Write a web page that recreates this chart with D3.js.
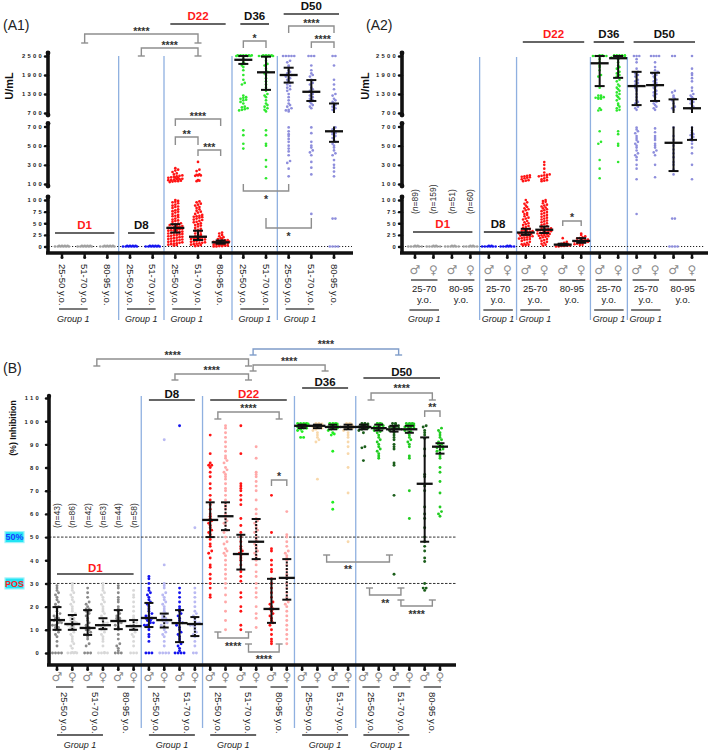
<!DOCTYPE html>
<html><head><meta charset="utf-8">
<script src="https://cdn.jsdelivr.net/npm/d3@7/dist/d3.min.js"></script>
<style>
html,body{margin:0;padding:0;background:#fff;}
svg{display:block;}
text{font-family:"Liberation Sans",Arial,Helvetica,sans-serif;}
text.sym{font-family:"DejaVu Sans","Noto Sans",sans-serif;}
</style></head><body>
<svg id="chart" width="709" height="750"></svg>
<script>
// ======================= DATA =======================
// ---- Panel A1 (U/mL by day and age) ----
const a1Days = ["D1","D1","D1","D8","D8","D22","D22","D22","D36","D36","D50","D50","D50"];
const a1Ages = ["25-50 y.o.","51-70 y.o.","80-95 y.o.","25-50 y.o.","51-70 y.o.","25-50 y.o.","51-70 y.o.","80-95 y.o.","25-50 y.o.","51-70 y.o.","25-50 y.o.","51-70 y.o.","80-95 y.o."];
const a1Values = [
 [0,0,0,0,0,0,0,0,0,0],
 [0,0,0,0,0,0,0,0,0,0],
 [0,0,0,0,0,0,0,0,0,0],
 [0,0,0,0,0,0,0,0,0,0],
 [0,0,0,0,0,0,0,0,0,0],
 [265,250,240,225,210,200,190,185,180,175,170,165,160,160,155,150,150,145,140,140,135,130,130,125,120,
  100,98,96,95,93,90,88,86,85,83,80,78,76,75,73,70,68,66,65,63,60,58,56,55,53,50,49,48,47,46,45,44,43,42,41,40,40,39,38,38,37,36,35,35,34,33,32,31,30,30,29,28,27,26,25,24,23,22,21,20,19,18,17,16,15,14,13,12,11,10,9,8,7,6,5,4,3,2],
 [330,250,235,200,195,190,190,185,140,135,130,
  97,95,92,90,88,85,83,80,77,75,73,70,68,66,65,64,63,62,60,58,57,55,53,52,50,48,46,45,43,40,38,36,34,32,30,28,26,24,22,21,20,20,19,18,18,17,16,15,15,14,13,12,11,10,9,8,7,6,5,4,3,2,1],
 [30,28,25,22,20,18,16,15,14,13,12,11,10,10,9,9,8,8,7,7,6,6,5,5,4,4,3,3,2,2,1,1,0,0],
 [2500,2500,2500,2500,2500,2500,2500,2500,2500,2500,2500,2500,2400,2300,2250,2200,2150,2050,1900,1750,1650,1600,1250,1200,1180,1150,1120,1100,1050,1000,900,880,850,820,800,780,660,610,520,470],
 [2500,2500,2500,2500,2500,2500,2500,2500,2500,2500,2450,2350,2250,2200,2100,2000,1950,1900,1800,1700,1600,1500,1400,1300,1250,1200,1100,1000,950,900,850,800,750,660,610,520,500,350,280,160],
 [2500,2500,2500,2500,2500,2350,2300,2200,2150,2050,2000,1950,1900,1900,1850,1800,1750,1700,1650,1600,1550,1500,1450,1400,1300,1200,1100,1000,950,900,850,800,780,750,690,650,620,600,570,540,500,470,440,400,340,320,260,180],
 [2500,2500,2500,2200,2050,1950,1900,1850,1750,1650,1600,1500,1450,1400,1350,1300,1250,1200,1150,1100,1050,1000,950,900,850,690,630,540,500,480,450,430,400,330,270,200,70],
 [2500,2500,2200,1750,1600,1450,1300,1250,1150,1100,1050,1000,950,900,850,800,690,670,650,640,630,620,600,580,560,540,520,500,480,450,420,400,350,300,270,230,180,60,60,0,0,0,0]
];
const a1Median = [null,null,null,null,null,40,21,9,2380,1985,1900,1370,650];
const a1Q1     = [null,null,null,null,null,30,14,6,2250,1430,1660,1080,540];
const a1Q3     = [null,null,null,null,null,48,34,13,2500,2480,2130,1740,1000];

// ---- Panel A2 (U/mL by day, sex and age) ----
const a2Days = ["D1","D1","D1","D1","D8","D8","D22","D22","D22","D22","D36","D36","D50","D50","D50","D50"];
const a2Sex  = ["M","F","M","F","M","F","M","F","M","F","M","F","M","F","M","F"];
const a2Ages = ["25-70","25-70","80-95","80-95","25-70","25-70","25-70","25-70","80-95","80-95","25-70","25-70","25-70","25-70","80-95","80-95"];
const a2N    = ["89","159","51","60"];
const a2Values = [
 [0,0,0,0,0,0,0,0],[0,0,0,0,0,0,0,0],[0,0,0,0,0,0,0,0],[0,0,0,0,0,0,0,0],
 [0,0,0,0,0,0,0,0],[0,0,0,0,0,0,0,0],
 [190,185,180,175,170,165,160,150,140,135,130,
  100,95,92,88,85,82,80,78,75,72,70,68,65,62,60,58,55,52,50,48,46,44,42,40,38,36,35,34,33,32,31,30,29,28,27,26,25,24,23,22,21,20,19,18,17,16,15,14,12,10,8,6,5,4,3,2],
 [330,300,260,220,200,195,190,185,180,170,160,150,140,135,130,
  100,98,96,93,90,88,86,84,82,80,78,76,74,72,70,68,66,64,62,60,58,56,54,52,50,48,46,44,42,40,39,38,37,36,35,34,33,32,31,30,29,28,27,26,25,24,23,22,21,20,18,16,14,12,10,8,6,4,2],
 [18,10,8,6,5,4,4,3,3,2,2,1,1,0,0],
 [28,25,22,20,18,17,16,15,14,13,12,12,11,10,10,9,8,7,6,5,4,3],
 [2500,2500,2500,2500,2500,2500,2500,2500,2400,2300,2200,2150,2050,1900,1850,1500,1250,1200,1180,1150,1150,1180,1200,1250,850,800,780,650,540,520,350,260,160],
 [2500,2500,2500,2500,2500,2500,2500,2500,2500,2500,2450,2400,2300,2200,2150,2100,2000,1950,1900,1850,1750,1700,1600,1550,1500,1450,1400,1350,1300,1250,1200,1150,1100,1000,950,900,850,800,780,650,620,520,500,330],
 [2500,2500,2500,2400,2300,2100,2000,1950,1900,1850,1750,1700,1650,1600,1550,1500,1450,1400,1300,1200,1100,1050,1000,950,900,850,800,690,670,650,630,600,580,560,540,520,500,480,450,420,400,380,350,300,260,150,70],
 [2500,2500,2500,2500,2300,2150,2050,2000,1950,1950,1900,1850,1800,1750,1700,1650,1600,1550,1500,1450,1400,1350,1300,1250,1200,1100,1050,1000,950,900,850,800,680,640,600,580,560,520,500,480,450,430,400,300,170],
 [2500,2500,1400,1350,1250,1200,1150,1100,1000,900,850,800,690,600,560,500,460,420,380,330,300,250,200,60,60,0,0,0,0],
 [2500,2100,1950,1900,1800,1700,1500,1400,1300,1250,1200,1150,1100,1050,1000,950,900,850,690,660,640,620,610,590,570,550,520,480,420,300,150]
];
const a2Median = [null,null,null,null,null,null,30,36,4,12,2270,2430,1550,1580,530,850];
const a2Q1     = [null,null,null,null,null,null,25,29,2,8,1550,1810,950,1080,235,560];
const a2Q3     = [null,null,null,null,null,null,38,43,6,18,2500,2500,2000,1970,1130,1140];

// ---- Panel B (% inhibition by day, sex and age) ----
const bDays = ["D1","D1","D1","D1","D1","D1","D8","D8","D8","D8","D22","D22","D22","D22","D22","D22","D36","D36","D36","D36","D50","D50","D50","D50","D50","D50"];
const bSex  = ["M","F","M","F","M","F","M","F","M","F","M","F","M","F","M","F","M","F","M","F","M","F","M","F","M","F"];
const bAges = ["25-50","25-50","51-70","51-70","80-95","80-95","25-50","25-50","51-70","51-70","25-50","25-50","51-70","51-70","80-95","80-95","25-50","25-50","51-70","51-70","25-50","25-50","51-70","51-70","80-95","80-95"];
const bN    = ["43","86","42","63","44","58"];
const bValues = [
 [0,0,0,0,3,5,7,8,9,10,10,11,11,12,12,13,13,14,14,14,15,15,16,16,17,18,19,20,20,21,22,23,24,25,26,27,28,29],
 [0,0,0,0,0,0,2,3,4,5,6,7,8,9,10,10,11,11,12,12,12,13,13,13,14,14,15,15,16,16,17,18,19,20,21,22,23,24,25,26,27,28,29,30],
 [0,0,0,3,4,6,7,8,8,9,10,10,11,11,12,13,14,15,16,17,18,18,19,19,20,21,22,24,26,28],
 [0,0,0,0,0,3,5,6,7,8,9,10,10,11,11,12,12,13,13,14,15,16,17,18,19,20,21,22,23,24,25,26,27,28,29,30],
 [0,0,0,1,2,3,4,6,8,10,11,12,13,13,14,14,15,15,16,17,18,19,20,22,23,24,26,28,29],
 [0,0,0,3,5,7,8,9,10,10,11,11,12,12,13,14,15,16,18,20,22,24,25,27],
 [0,0,0,5,7,8,10,11,12,12,13,13,14,14,15,15,15,16,16,17,18,19,20,21,22,23,24,25,26,27,28,30,32,33],
 [0,0,0,0,3,5,7,8,9,10,11,12,13,13,14,14,15,15,16,17,18,19,20,21,22,23,24,25,26,28,29,30,38,92],
 [0,0,0,0,1,2,3,4,5,6,7,8,9,10,11,12,13,13,14,15,16,17,18,19,20,22,24,26,28,98],
 [0,0,3,5,7,8,9,10,11,12,12,13,13,14,15,16,17,18,20,22,24,26,28,54],
 [94,86,82,81,81,80,78,76,73,71,68,66,64,62,60,59,58,57,56,55,54,53,52,51,50,49,47,46,44,43,41,38,37,34,32,30,28,25,24],
 [98,97,95,93,91,89,87,85,84,83,82,80,79,78,77,76,75,73,71,70,68,66,64,63,62,60,59,58,57,56,55,53,52,50,48,47,45,44,43,42,40,38,36,34,32,30,28,25,22,18,14,10],
 [98,86,73,72,71,70,68,66,64,58,55,52,50,48,46,45,44,43,42,41,40,38,36,35,33,31,26,24,20,18,12,10],
 [89,84,78,77,76,74,72,70,66,62,60,58,57,56,55,54,53,52,50,49,48,47,46,45,44,43,42,41,40,38,35,33,30,28,26,24,20,17,15,11],
 [68,52,45,44,40,38,36,35,32,30,28,26,24,22,21,20,19,19,18,17,16,15,14,13,12,10,8,6,5,4],
 [61,51,50,48,46,44,43,42,41,40,38,36,34,33,32,30,28,26,24,23,22,21,20,18,16,14,12,10,8,6,4],
 [99,99,99,99,98.5,98.5,98,98,98,98,97.5,97.5,97,97,97,96.5,96,95.5,93,93],
 [99,99,98.5,98.5,98,98,98,97.5,97.5,97,97,96.5,96,95,94,93,92,91,75],
 [99,99,99,98.5,98.5,98,98,98,97.5,97.5,97,97,96.5,96,95,94.5,94,87,65,62],
 [99,99,98.5,98,98,98,97.5,97.5,97,97,96.5,96,95,94,93,91,89,86,80,69,48],
 [99,99,98.5,98.5,98,98,98,97.5,97.5,97,97,96.5,96,95,89,88.5,83],
 [99,99,98.5,98.5,98,98,97.5,97.5,97,97,96.5,96,95.5,95,94,93,92,91,90,89,88,87,86,85,84],
 [99,99,98.5,98,98,97.5,97.5,97,97,96.5,96,95,94,93,92,90,89,88,82,81,68,34],
 [99,99,99,98.5,98.5,98,98,98,97.5,97.5,97,97,96.5,96,95.5,95,94,93,92,91,90,89,85,84,70,58],
 [98,97.5,96,95,94,92.5,88,85,77,76,72,70,63,60,58,54,50,48,46,44,41,39.5,30,28,28,27],
 [97,96,95,94,93,92,91,90,90,89,89,88.5,88,87.5,87,86,85,84,80,78,74,69,63,61,60,59]
];
const bMedian = [14.2,12.5,10.8,12,13.8,11.6, 15.1,14.2,12.9,12.5, 57.4,59,42.7,48,19,32.4, 98,98,97.5,97.5, 97.5,97,96.5,96.5,73,89];
const bQ1     = [10,10,7.8,10.3,10.3,10, 11.2,11,4.7,7.3, 50,53,36,40.5,13,23, 97,97,96.5,96.5, 96.5,96,95.5,95,48,86];
const bQ3     = [19.8,16.4,18.5,15,18.5,14.2, 21.6,17,18.5,15.5, 65,65,51,57.8,32,40.5, 98.5,98.5,98.5,98.5, 98.5,98.5,98,98,93,90.5];
const bTicks  = [0,10,20,30,40,50,60,70,80,90,100,110];

// ======================= STYLE =======================
const INK = "#111", SEP = "#8fb0e0", BR = "#8e8e8e", BRB = "#7f9cc9";
const redDays = new Set(["D1","D22"]);
const colA = {D1:"#a0a0a0", D8:"#1414f0", D22:"#ff1414", D36:"#2ee82e", D50:"#8e8edc"};
const colB = {D1:{M:"#8a8a8a",F:"#d8d8d8"}, D8:{M:"#1414ee",F:"#b9b9f2"}, D22:{M:"#ff1414",F:"#ffa8a8"},
              D36:{M:"#22ee22",F:"#f8d8ab"}, D50:{M:"#1b5e1b",F:"#22cc22"}};

const svg = d3.select("#chart");

// ======================= HELPERS =======================
function hline(g,x1,x2,y,stroke,w,dash){return g.append("line").attr("x1",x1).attr("x2",x2).attr("y1",y).attr("y2",y).attr("stroke",stroke).attr("stroke-width",w).attr("stroke-dasharray",dash||null);}
function vline(g,x,y1,y2,stroke,w,dash){return g.append("line").attr("x1",x).attr("x2",x).attr("y1",y1).attr("y2",y2).attr("stroke",stroke).attr("stroke-width",w).attr("stroke-dasharray",dash||null);}
function txt(g,x,y,s,o={}){
  return g.append("text").attr("x",x).attr("y",y).attr("text-anchor",o.anchor||"middle")
    .attr("font-size",o.size||9).attr("font-weight",o.bold?"bold":null).attr("font-style",o.italic?"italic":null)
    .attr("fill",o.fill||"#222").text(s);
}
function swarm(vals, cx, yf, d, maxPer){
  const pts = vals.map(v=>({v, y:yf(v)})).sort((a,b)=>b.y-a.y);
  const rows = d3.groups(pts, p=>Math.round(p.y/d));
  const out = [];
  rows.forEach(([k,arr])=>{
    const n = arr.length, full = Math.floor(n/maxPer);
    arr.forEach((p,i)=>{
      const col = i%maxPer, layer = Math.floor(i/maxPer);
      const cnt = layer<full ? maxPer : (n%maxPer||maxPer);
      const off = (col-(cnt-1)/2)*d + (layer%2 ? d/2 : 0);
      out.push({x:cx+off, y:p.y - (layer? 0.6*layer:0)});
    });
  });
  return out;
}
function dots(g, vals, cx, yf, color, r, d, maxPer){
  g.append("g").selectAll("circle").data(swarm(vals,cx,yf,d,maxPer)).join("circle")
    .attr("cx",p=>p.x).attr("cy",p=>p.y).attr("r",r).attr("fill",color);
}
function errbar(g, x, med, lo, hi, yf, segs, o){
  if (med==null) return;
  const parts = segs ? segs.map(s=>[Math.max(lo,s.dom[0]),Math.min(hi,s.dom[1]),s.sc]).filter(p=>p[0]<p[1]).map(p=>[p[2](p[0]),p[2](p[1])])
                     : [[yf(lo),yf(hi)]];
  parts.forEach(p=>vline(g,x,p[0],p[1],INK,o.w,o.dash));
  hline(g,x-o.cap,x+o.cap,yf(lo),INK,o.w);
  hline(g,x-o.cap,x+o.cap,yf(hi),INK,o.w);
  hline(g,x-o.med,x+o.med,yf(med),INK,o.w+0.3);
}
function bracket(g, xs, b){
  const x0 = xs(b.i0), x1 = xs(b.i1), c = b.c||BR;
  g.append("path").attr("d",`M${x0},${b.y+b.leg}L${x0},${b.y}L${x1},${b.y}L${x1},${b.y+b.leg}`)
    .attr("fill","none").attr("stroke",c).attr("stroke-width",1.4);
  if (b.cap) [x0,x1].forEach(x=>hline(g,x-3.5,x+3.5,b.y+b.leg,c,1.4));
  txt(g, b.tx!=null?b.tx:(x0+x1)/2, b.ty+5, b.t, {size:10.5,bold:true,fill:"#333"});
}
function idxScale(sc){ const s0 = sc(0), st = sc.step(); return i=>s0+i*st; }
function separators(g, days, xs, y1, y2){
  for (let i=1;i<days.length;i++) if (days[i]!==days[i-1]) vline(g,(xs(i-1)+xs(i))/2,y1,y2,SEP,1.3);
}
function headers(g, days, xs, cfg, gap, size){
  Array.from(new Set(days)).forEach(d=>{
    const i0 = days.indexOf(d), i1 = days.lastIndexOf(d), c = cfg[d];
    const xa = xs(i0)-c.pad, xb = xs(i1)+c.pad;
    hline(g,xa,xb,c.y,"#333",1.6);
    txt(g,(xa+xb)/2,c.y-gap,d,{size:size,bold:true,fill:redDays.has(d)?"#ff1a1a":"#111"});
  });
}
function tickLabels(sel){
  sel.selectAll(".tick text").attr("font-size",5.8).attr("font-weight","bold").attr("fill","#222")
    .style("letter-spacing","2.3px");
  sel.selectAll(".tick line").attr("stroke",INK).attr("stroke-width",2.4).attr("stroke-linecap","round");
}
function sexSymbols(g, sexes, xs, y){
  sexes.forEach((s,i)=>{
    g.append("text").attr("class","sym").attr("x",xs(i)).attr("y",y).attr("text-anchor","middle")
      .attr("font-size",12).attr("fill","#8c8c8c").text(s==="M"?"\u2642":"\u2640");
  });
}
const fmtInt = d3.format("d");

// ======================= PANEL A (shared broken scale) =======================
const aSegs = [
  {dom:[0,100],    rng:[246.5,200], ticks:[0,25,50,75,100],     line:[253,197]},
  {dom:[100,700],  rng:[184,126.5], ticks:[100,300,500,700],    line:[186,123.5]},
  {dom:[700,2500], rng:[113,56],    ticks:[700,1300,1900,2500], line:[115,53]}
];
aSegs.forEach(s=>s.sc=d3.scaleLinear().domain(s.dom).range(s.rng));
function yA(v){ if (v<=100) return aSegs[0].sc(v); if (v<=700) return aSegs[1].sc(v); return aSegs[2].sc(Math.min(v,2500)); }

function axisA(g, ax, xEnd, xs, n){
  aSegs.forEach((s,k)=>{
    const a = g.append("g").attr("transform",`translate(${ax},0)`)
      .call(d3.axisLeft(s.sc).tickValues(s.ticks).tickFormat(fmtInt).tickSize(3).tickSizeOuter(0).tickPadding(1));
    a.select(".domain").remove(); tickLabels(a);
    vline(g,ax,s.line[0],s.line[1],INK,3.6);
    g.append("circle").attr("cx",ax).attr("cy",s.line[1]).attr("r",2.4).attr("fill",INK);
    if (k>0) g.append("circle").attr("cx",ax).attr("cy",s.line[0]).attr("r",2.4).attr("fill",INK);
  });
  hline(g,ax-2,xEnd,253,INK,3.6);
  for (let i=0;i<n;i++){ vline(g,xs(i),253,257,INK,2.4); g.append("circle").attr("cx",xs(i)).attr("cy",257.5).attr("r",1.5).attr("fill",INK); }
}

// ---------------- A1 ----------------
{
  const g = svg.append("g");
  const n = a1Days.length;
  const xsc = d3.scalePoint().domain(d3.range(n)).range([62,334]);
  const xs = idxScale(xsc);
  separators(g,a1Days,xs,56,320);
  hline(g,48,352,yA(0),"#222",1,"1.2,1.8");
  a1Values.forEach((v,i)=>dots(g,v,xs(i),yA,colA[a1Days[i]],1.35,2.8,6));
  a1Median.forEach((m,i)=>errbar(g,xs(i),m,a1Q1[i],a1Q3[i],yA,aSegs,{w:2,cap:5,med:9}));
  axisA(g,48,353,xs,n);
  a1Ages.forEach((a,i)=>{
    g.append("text").attr("transform",`translate(${xs(i)},264) rotate(90)`).attr("dy","0.35em")
      .attr("font-size",9.5).attr("fill","#222").text(a);
  });
  ["D1","D8","D22","D36","D50"].forEach(d=>{
    const i=a1Days.indexOf(d);
    hline(g,xs(i)-3,xs(i+1)+3,309,"#333",1.3);
    txt(g,(xs(i)+xs(i+1))/2,321.5,"Group 1",{size:9,italic:true});
  });
  headers(g,a1Days,xs,{D1:{pad:7,y:233},D8:{pad:2,y:233},D22:{pad:5,y:24},D36:{pad:3,y:24},D50:{pad:5,y:14}},3.6,11.5);
  const br = [
    {i0:1,i1:6,y:34,leg:9,cap:true,t:"****",ty:30},
    {i0:3.5,i1:6,y:48,leg:8,cap:true,t:"****",ty:44},
    {i0:5,i1:7,y:119,leg:7,cap:false,t:"****",ty:115},
    {i0:5,i1:6,y:137,leg:8,cap:false,t:"**",ty:133},
    {i0:6,i1:7,y:150,leg:6,cap:false,t:"***",ty:146},
    {i0:8,i1:9,y:41,leg:7,cap:false,t:"*",ty:37},
    {i0:10,i1:12,y:26,leg:7,cap:false,t:"****",ty:22},
    {i0:11,i1:12,y:42,leg:6,cap:false,t:"****",ty:38},
    {i0:8,i1:10,y:191,leg:-7,cap:false,t:"*",ty:198},
    {i0:9,i1:11,y:228,leg:-10,cap:false,t:"*",ty:235}
  ];
  br.forEach(b=>bracket(g,xs,b));
  txt(g,3,30,"(A1)",{size:14,anchor:"start",fill:"#222"});
  g.append("text").attr("transform","translate(9,86) rotate(-90)").attr("text-anchor","middle").attr("dy","0.35em")
    .attr("font-size",11).attr("font-weight","bold").attr("fill","#111").text("U/mL");
}

// ---------------- A2 ----------------
{
  const g = svg.append("g");
  const n = a2Days.length;
  const xsc = d3.scalePoint().domain(d3.range(n)).range([415,692]);
  const xs = idxScale(xsc);
  separators(g,a2Days,xs,57,320);
  hline(g,402,705,yA(0),"#222",1,"1.2,1.8");
  a2Values.forEach((v,i)=>dots(g,v,xs(i),yA,colA[a2Days[i]],1.3,2.7,6));
  a2Median.forEach((m,i)=>errbar(g,xs(i),m,a2Q1[i],a2Q3[i],yA,aSegs,{w:2,cap:5,med:9}));
  axisA(g,402,708,xs,n);
  sexSymbols(g,a2Sex,xs,274);
  for (let i=0;i<n;i+=2){
    hline(g,xs(i)-4,xs(i+1)+4,280,"#333",1.3);
    txt(g,(xs(i)+xs(i+1))/2,292,a2Ages[i],{size:9.5});
    txt(g,(xs(i)+xs(i+1))/2,303,"y.o.",{size:9.5});
  }
  ["D1","D8","D22","D36","D50"].forEach(d=>{
    const i=a2Days.indexOf(d);
    hline(g,xs(i)-5.5,xs(i+1)+5.5,310,"#333",1.3);
    txt(g,(xs(i)+xs(i+1))/2,321.5,"Group 1",{size:9,italic:true});
  });
  a2N.forEach((nn,i)=>{
    const t = g.append("text").attr("transform",`translate(${xs(i)+3},214) rotate(-90)`)
      .attr("font-size",8.5).attr("fill","#333");
    t.append("tspan").text("(");
    t.append("tspan").attr("font-style","italic").text("n");
    t.append("tspan").text("="+nn+")");
  });
  headers(g,a2Days,xs,{D1:{pad:2,y:232},D8:{pad:5,y:232},D22:{pad:3,y:42},D36:{pad:6,y:42},D50:{pad:3,y:42}},3.6,11.5);
  bracket(g,xs,{i0:8,i1:9,y:221,leg:5,cap:false,t:"*",ty:216});
  txt(g,366,30,"(A2)",{size:14,anchor:"start",fill:"#222"});
  g.append("text").attr("transform","translate(365,86) rotate(-90)").attr("text-anchor","middle").attr("dy","0.35em")
    .attr("font-size",11).attr("font-weight","bold").attr("fill","#111").text("U/mL");
}

// ---------------- B ----------------
{
  const g = svg.append("g");
  const n = bDays.length;
  const y = d3.scaleLinear().domain([0,110]).range([653,398]);
  const xsc = d3.scalePoint().domain(d3.range(n)).range([57,440]);
  const xs = idxScale(xsc);
  separators(g,bDays,xs,396,728);
  hline(g,49,456,y(50),"#333",1,"2.5,1.5");
  hline(g,49,456,y(30),"#333",1,"2.5,1.5");
  bValues.forEach((v,i)=>dots(g,v,xs(i),y,colB[bDays[i]][bSex[i]],1.45,3,4));
  bMedian.forEach((m,i)=>errbar(g,xs(i),m,bQ1[i],bQ3[i],y,null,{w:2,cap:4.5,med:8,dash:bSex[i]==="F"?"2,1.3":null}));
  const a = g.append("g").attr("transform","translate(49,0)")
    .call(d3.axisLeft(y).tickValues(bTicks).tickFormat(fmtInt).tickSize(3).tickSizeOuter(0).tickPadding(5));
  a.select(".domain").remove(); tickLabels(a);
  vline(g,49,396,665,INK,3.6);
  g.append("circle").attr("cx",49).attr("cy",396).attr("r",2.2).attr("fill",INK);
  hline(g,47,456,665,INK,3.6);
  for (let i=0;i<n;i++){ vline(g,xs(i),665,669,INK,2.4); g.append("circle").attr("cx",xs(i)).attr("cy",669.5).attr("r",1.5).attr("fill",INK); }
  [[50,"50%","#1a3cff"],[30,"POS","#ff2020"]].forEach(([v,s,c])=>{
    g.append("rect").attr("x",5).attr("y",y(v)-5.5).attr("width",19).attr("height",11).attr("fill","#22e4f4")
      .attr("stroke","#9ff2fa").attr("stroke-width",1.2);
    txt(g,14.5,y(v)+3.3,s,{size:9,bold:true,fill:c});
  });
  sexSymbols(g,bSex,xs,681);
  for (let i=0;i<n;i+=2){
    hline(g,xs(i)-1,xs(i+1)+1,687,"#333",1.3);
    g.append("text").attr("transform",`translate(${(xs(i)+xs(i+1))/2},692) rotate(90)`).attr("dy","0.35em")
      .attr("font-size",9.5).attr("fill","#222").text(bAges[i]+" y.o.");
  }
  ["D1","D8","D22","D36","D50"].forEach(d=>{
    const i=bDays.indexOf(d);
    hline(g,xs(i),xs(i+3),735,"#333",1.3);
    txt(g,(xs(i)+xs(i+3))/2,747.5,"Group 1",{size:9,italic:true});
  });
  bN.forEach((nn,i)=>{
    const t = g.append("text").attr("transform",`translate(${xs(i)+3},528) rotate(-90)`)
      .attr("font-size",8.5).attr("fill","#333");
    t.append("tspan").text("(");
    t.append("tspan").attr("font-style","italic").text("n");
    t.append("tspan").text("="+nn+")");
  });
  headers(g,bDays,xs,{D1:{pad:0,y:574},D8:{pad:0,y:400},D22:{pad:0,y:400},D36:{pad:0,y:388},D50:{pad:0,y:378}},2.5,11.5);
  const br = [
    {i0:2.6,i1:12.5,y:359,leg:7,cap:true,t:"****",ty:354},
    {i0:12.8,i1:22.3,y:349,leg:6,cap:true,t:"****",ty:343,c:BRB},
    {i0:12.8,i1:17.5,y:365,leg:6,cap:true,t:"****",ty:360},
    {i0:7.7,i1:12.5,y:374,leg:6,cap:true,t:"****",ty:369},
    {i0:10.5,i1:14.5,y:412,leg:7,cap:true,t:"****",ty:407},
    {i0:14,i1:15,y:480,leg:6,cap:false,t:"*",ty:475},
    {i0:10.5,i1:12.5,y:638,leg:-6,cap:true,t:"****",ty:645},
    {i0:12.5,i1:14.5,y:652,leg:-8,cap:true,t:"****",ty:658},
    {i0:17.6,i1:21.7,y:562,leg:-7,cap:true,t:"**",ty:568,tx:348},
    {i0:20.4,i1:22.45,y:595,leg:-7,cap:true,t:"**",ty:602},
    {i0:22.45,i1:24.5,y:606,leg:-6,cap:true,t:"****",ty:613},
    {i0:20.5,i1:24.5,y:393,leg:7,cap:true,t:"****",ty:387},
    {i0:24,i1:25,y:411,leg:6,cap:false,t:"**",ty:406}
  ];
  br.forEach(b=>bracket(g,xs,b));
  txt(g,3,373,"(B)",{size:14,anchor:"start",fill:"#222"});
  g.append("text").attr("transform","translate(12.5,428) rotate(-90)").attr("text-anchor","middle").attr("dy","0.35em")
    .attr("font-size",8.8).attr("font-weight","bold").attr("fill","#111").text("(%) Inhibition");
}
</script>
</body></html>
